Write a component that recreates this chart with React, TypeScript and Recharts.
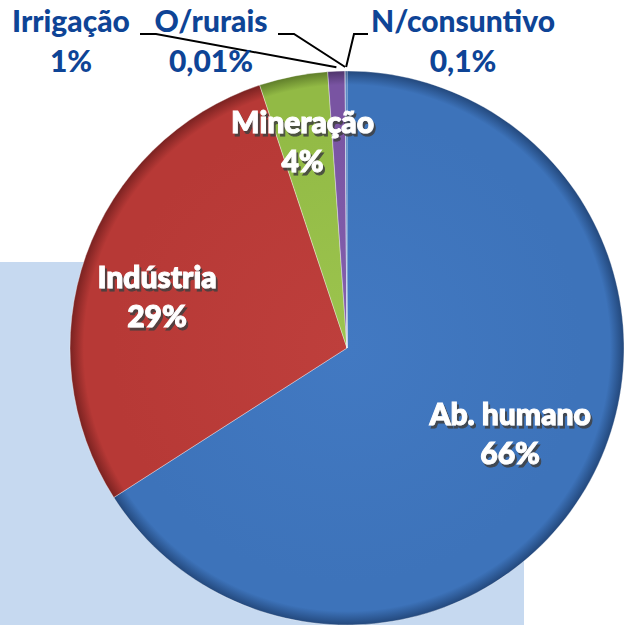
import React from 'react';
import { PieChart, Pie, Cell } from 'recharts';

// usos da água (%)
const names = ['Ab. humano', 'Indústria', 'Mineração', 'Irrigação', 'O/rurais', 'N/consuntivo'];
const values = [66, 29, 4, 1, 0.01, 0.1];
const valueLabels = ['66%', '29%', '4%', '1%', '0,01%', '0,1%'];

const data = names.map((name, i) => ({ name, value: values[i], text: valueLabels[i] }));

const colors = [
	['#4279c2', '#3d73ba', '#23487c'],
	['#be3f3c', '#b73936', '#7a2221'],
	['#9cc44e', '#92ba45', '#5f7d2a'],
	['#8460ae', '#7954a2', '#4f356c'],
	['#4279c2', '#3d73ba', '#23487c'],
	['#4279c2', '#3d73ba', '#23487c'],
];

// label layout (inside: radius factor + angle nudge; outside: text anchor + leader start)
const insideLabel: Record<number, { r: number; da: number }> = {
	0: { r: 0.665, da: 1 },
	1: { r: 0.71, da: 4.5 },
	2: { r: 0.76, da: 1 },
};
const outsideLabel: Record<number, { x: number; y: number; line: [number, number][] }> = {
	3: { x: 71, y: 32, line: [[140, 34], [156, 34]] },
	4: { x: 211, y: 32, line: [[278, 34], [294, 34]] },
	5: { x: 463, y: 32, line: [[368, 34], [354, 34]] },
};

const RAD = Math.PI / 180;
const font = 'Lato, "Open Sans", sans-serif';

const renderLabel = (props: any) => {
	const { cx, cy, midAngle, outerRadius, index } = props;
	const d = data[index];
	const inside = insideLabel[index];
	if (inside) {
		const a = midAngle + inside.da;
		const r = outerRadius * inside.r;
		const x = cx + r * Math.cos(-a * RAD);
		const y = cy + r * Math.sin(-a * RAD);
		return (
			<text
				key={'lbl' + index}
				textAnchor='middle'
				fontFamily={font}
				fontWeight={900}
				fontSize={30}
				fill='#ffffff'
				stroke='#ffffff'
				strokeWidth={1}
				filter='url(#shadow)'
			>
				<tspan x={x} y={y - 9}>{d.name}</tspan>
				<tspan x={x} y={y + 30}>{d.text}</tspan>
			</text>
		);
	}
	const o = outsideLabel[index];
	const px = cx + outerRadius * Math.cos(-midAngle * RAD);
	const py = cy + outerRadius * Math.sin(-midAngle * RAD);
	const pts = [...o.line, [px, py - 4]].map((p) => p.join(',')).join(' ');
	return (
		<g key={'lbl' + index}>
			<polyline points={pts} fill='none' stroke='#000' strokeWidth={2} />
			<text textAnchor='middle' fill='#0e4496' fontFamily={font} fontWeight={900} fontSize={30}>
				<tspan x={o.x} y={o.y}>{d.name}</tspan>
				<tspan x={o.x} y={o.y + 40}>{d.text}</tspan>
			</text>
		</g>
	);
};

export default function App() {
	return (
		<div style={{ position: 'absolute', left: 0, top: 0, width: 624, height: 625, overflow: 'hidden', background: '#fff' }}>
			<div style={{ position: 'absolute', left: 0, top: 262, width: 524, height: 363, background: '#c6d9f0' }} />
			<div style={{ position: 'absolute', left: 0, top: 0 }}>
				<PieChart width={624} height={625} margin={{ top: 0, right: 0, bottom: 0, left: 0 }}>
					<defs>
						{colors.map((c, i) => (
							<radialGradient key={i} id={'g' + i} cx={347} cy={348} r={277} gradientUnits='userSpaceOnUse'>
								<stop offset='0%' stopColor={c[0]} />
								<stop offset='85%' stopColor={c[1]} />
								<stop offset='95%' stopColor={c[1]} />
								<stop offset='100%' stopColor={c[2]} />
							</radialGradient>
						))}
						<filter id='shadow' x='-10%' y='-10%' width='130%' height='140%'>
							<feDropShadow dx={2} dy={3} stdDeviation={0.6} floodColor='#404040' floodOpacity={0.85} />
						</filter>
					</defs>
					<Pie
						data={data}
						dataKey='value'
						nameKey='name'
						cx={347}
						cy={348}
						outerRadius={277}
						startAngle={90}
						endAngle={-270}
						stroke='rgba(255,255,255,0.35)'
						strokeWidth={1}
						label={renderLabel}
						labelLine={false}
						isAnimationActive={false}
					>
						{data.map((d, i) => (
							<Cell key={d.name} fill={`url(#g${i})`} />
						))}
					</Pie>
				</PieChart>
			</div>
		</div>
	);
}
